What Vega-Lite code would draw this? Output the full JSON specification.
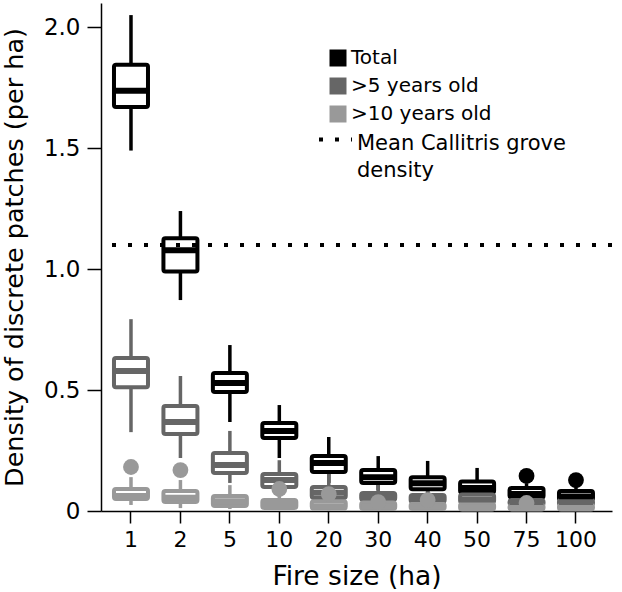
{
  "$schema": "https://vega.github.io/schema/vega-lite/v6.json",
  "width": 511,
  "height": 508,
  "autosize": {"type": "none"},
  "padding": {"left": 101, "top": 3, "right": 10, "bottom": 81},
  "background": "white",
  "config": {
    "font": "DejaVu Sans",
    "view": {"stroke": null},
    "axis": {"domainColor": "#000", "domainWidth": 1.5, "tickColor": "#000", "tickWidth": 1.5, "labelColor": "#000", "titleColor": "#000", "labelFontSize": 22, "titleFontWeight": "normal", "grid": false, "labelFont": "DejaVu Sans", "titleFont": "DejaVu Sans"},
    "axisY": {"tickSize": 14, "labelPadding": 7, "titlePadding": 16, "titleFontSize": 25.5, "labelFontSize": 23},
    "axisX": {"tickSize": 12, "labelPadding": 6, "titlePadding": 13, "labelAngle": 0, "titleFontSize": 26.5},
    "legend": {"labelColor": "#000", "labelFont": "DejaVu Sans", "labelLimit": 400, "padding": 0}
  },
  "datasets": {
    "boxes": [
      {"size": 1, "group": "Total", "lower": 1.49, "q1": 1.67, "median": 1.737, "q3": 1.845, "upper": 2.05},
      {"size": 2, "group": "Total", "lower": 0.872, "q1": 0.99, "median": 1.078, "q3": 1.128, "upper": 1.24},
      {"size": 5, "group": "Total", "lower": 0.368, "q1": 0.492, "median": 0.529, "q3": 0.57, "upper": 0.686},
      {"size": 10, "group": "Total", "lower": 0.219, "q1": 0.302, "median": 0.331, "q3": 0.364, "upper": 0.438},
      {"size": 20, "group": "Total", "lower": 0.116, "q1": 0.161, "median": 0.198, "q3": 0.227, "upper": 0.306},
      {"size": 30, "group": "Total", "lower": 0.085, "q1": 0.116, "median": 0.14, "q3": 0.17, "upper": 0.227},
      {"size": 40, "group": "Total", "lower": 0.07, "q1": 0.09, "median": 0.115, "q3": 0.14, "upper": 0.207},
      {"size": 50, "group": "Total", "lower": 0.055, "q1": 0.075, "median": 0.095, "q3": 0.122, "upper": 0.178},
      {"size": 75, "group": "Total", "lower": 0.04, "q1": 0.055, "median": 0.07, "q3": 0.095, "upper": 0.115},
      {"size": 100, "group": "Total", "lower": 0.03, "q1": 0.045, "median": 0.06, "q3": 0.083, "upper": 0.103},
      {"size": 1, "group": ">5 years old", "lower": 0.326, "q1": 0.512, "median": 0.579, "q3": 0.632, "upper": 0.793},
      {"size": 2, "group": ">5 years old", "lower": 0.219, "q1": 0.318, "median": 0.368, "q3": 0.434, "upper": 0.558},
      {"size": 5, "group": ">5 years old", "lower": 0.116, "q1": 0.157, "median": 0.19, "q3": 0.24, "upper": 0.331},
      {"size": 10, "group": ">5 years old", "lower": 0.06, "q1": 0.099, "median": 0.128, "q3": 0.153, "upper": 0.21},
      {"size": 20, "group": ">5 years old", "lower": 0.035, "q1": 0.054, "median": 0.075, "q3": 0.099, "upper": 0.157},
      {"size": 30, "group": ">5 years old", "lower": 0.025, "q1": 0.045, "median": 0.058, "q3": 0.074, "upper": 0.11},
      {"size": 40, "group": ">5 years old", "lower": 0.02, "q1": 0.037, "median": 0.05, "q3": 0.066, "upper": 0.1},
      {"size": 50, "group": ">5 years old", "lower": 0.018, "q1": 0.035, "median": 0.048, "q3": 0.068, "upper": 0.095},
      {"size": 75, "group": ">5 years old", "lower": 0.01, "q1": 0.025, "median": 0.035, "q3": 0.045, "upper": 0.07},
      {"size": 100, "group": ">5 years old", "lower": 0.01, "q1": 0.025, "median": 0.035, "q3": 0.045, "upper": 0.065},
      {"size": 1, "group": ">10 years old", "lower": 0.025, "q1": 0.05, "median": 0.062, "q3": 0.091, "upper": 0.14},
      {"size": 2, "group": ">10 years old", "lower": 0.012, "q1": 0.037, "median": 0.055, "q3": 0.083, "upper": 0.128},
      {"size": 5, "group": ">10 years old", "lower": 0.008, "q1": 0.021, "median": 0.04, "q3": 0.062, "upper": 0.107},
      {"size": 10, "group": ">10 years old", "lower": 0.005, "q1": 0.012, "median": 0.025, "q3": 0.045, "upper": 0.07},
      {"size": 20, "group": ">10 years old", "lower": 0.003, "q1": 0.01, "median": 0.02, "q3": 0.04, "upper": 0.055},
      {"size": 30, "group": ">10 years old", "lower": 0.003, "q1": 0.008, "median": 0.018, "q3": 0.035, "upper": 0.045},
      {"size": 40, "group": ">10 years old", "lower": 0.003, "q1": 0.008, "median": 0.018, "q3": 0.03, "upper": 0.04},
      {"size": 50, "group": ">10 years old", "lower": 0.002, "q1": 0.006, "median": 0.015, "q3": 0.03, "upper": 0.055},
      {"size": 75, "group": ">10 years old", "lower": 0.002, "q1": 0.006, "median": 0.012, "q3": 0.025, "upper": 0.03},
      {"size": 100, "group": ">10 years old", "lower": 0.002, "q1": 0.006, "median": 0.012, "q3": 0.025, "upper": 0.035}
    ],
    "outliers": [
      {"size": 75, "group": "Total", "value": 0.145},
      {"size": 100, "group": "Total", "value": 0.128},
      {"size": 1, "group": ">10 years old", "value": 0.182},
      {"size": 2, "group": ">10 years old", "value": 0.169},
      {"size": 10, "group": ">10 years old", "value": 0.091},
      {"size": 20, "group": ">10 years old", "value": 0.07},
      {"size": 30, "group": ">10 years old", "value": 0.037},
      {"size": 40, "group": ">10 years old", "value": 0.045},
      {"size": 75, "group": ">10 years old", "value": 0.033}
    ],
    "mean": [{"label": "Mean Callitris grove density", "value": 1.1}]
  },
  "layer": [
    {
      "data": {"name": "boxes"},
      "mark": {"type": "rule", "strokeWidth": 3.5},
      "encoding": {
        "x": {"field": "size", "type": "ordinal", "title": "Fire size (ha)", "scale": {"paddingInner": 0.2, "paddingOuter": 0.2675, "align": 0.386}},
        "y": {"field": "lower", "type": "quantitative", "title": "Density of discrete patches (per ha)", "scale": {"domain": [0, 2.1], "nice": false}, "axis": {"values": [0, 0.5, 1, 1.5, 2], "labelExpr": "datum.value == 0 ? '0' : format(datum.value, '.1f')"}},
        "y2": {"field": "upper"},
        "color": {"field": "group", "type": "nominal", "scale": {"domain": ["Total", ">5 years old", ">10 years old"], "range": ["#000000", "#666666", "#999999"]}, "legend": {"title": null, "orient": "none", "legendX": 227, "legendY": 45, "symbolType": "square", "symbolSize": 289, "rowPadding": 8, "labelOffset": 3, "labelFontSize": 20, "symbolStrokeWidth": 0, "symbolOpacity": 1, "encode": {"symbols": {"update": {"fill": {"scale": "color", "field": "value"}, "stroke": {"value": "transparent"}}}}}}
      }
    },
    {
      "data": {"name": "boxes"},
      "mark": {"type": "bar", "width": 34, "fill": "white", "strokeWidth": 4, "cornerRadius": 2},
      "encoding": {
        "x": {"field": "size", "type": "ordinal", "title": "Fire size (ha)"},
        "y": {"field": "q1", "type": "quantitative", "title": "Density of discrete patches (per ha)"},
        "y2": {"field": "q3"},
        "stroke": {"field": "group", "type": "nominal", "scale": {"domain": ["Total", ">5 years old", ">10 years old"], "range": ["#000000", "#666666", "#999999"]}, "legend": null}
      }
    },
    {
      "data": {"name": "boxes"},
      "mark": {"type": "tick", "size": 34, "thickness": 6, "opacity": 1},
      "encoding": {
        "x": {"field": "size", "type": "ordinal", "title": "Fire size (ha)"},
        "y": {"field": "median", "type": "quantitative", "title": "Density of discrete patches (per ha)"},
        "color": {"field": "group", "type": "nominal"}
      }
    },
    {
      "data": {"name": "outliers"},
      "mark": {"type": "point", "filled": true, "size": 250, "opacity": 1},
      "encoding": {
        "x": {"field": "size", "type": "ordinal", "title": "Fire size (ha)"},
        "y": {"field": "value", "type": "quantitative", "title": "Density of discrete patches (per ha)"},
        "color": {"field": "group", "type": "nominal"}
      }
    },
    {
      "data": {"name": "mean"},
      "mark": {"type": "rule", "strokeWidth": 4, "color": "#000"},
      "encoding": {
        "y": {"field": "value", "type": "quantitative", "title": "Density of discrete patches (per ha)"},
        "strokeDash": {"field": "label", "type": "nominal", "scale": {"range": [[4, 12]]}, "legend": {"title": null, "orient": "none", "legendX": 216, "legendY": 118, "symbolType": "stroke", "symbolSize": 1089, "symbolStrokeWidth": 4, "symbolStrokeColor": "#000", "labelOffset": 3, "labelFontSize": 21, "labelExpr": "['Mean Callitris grove', 'density']", "labelBaseline": "top", "encode": {"labels": {"update": {"dy": {"value": -7}, "lineHeight": {"value": 27}}}}}}
      }
    }
  ]
}
